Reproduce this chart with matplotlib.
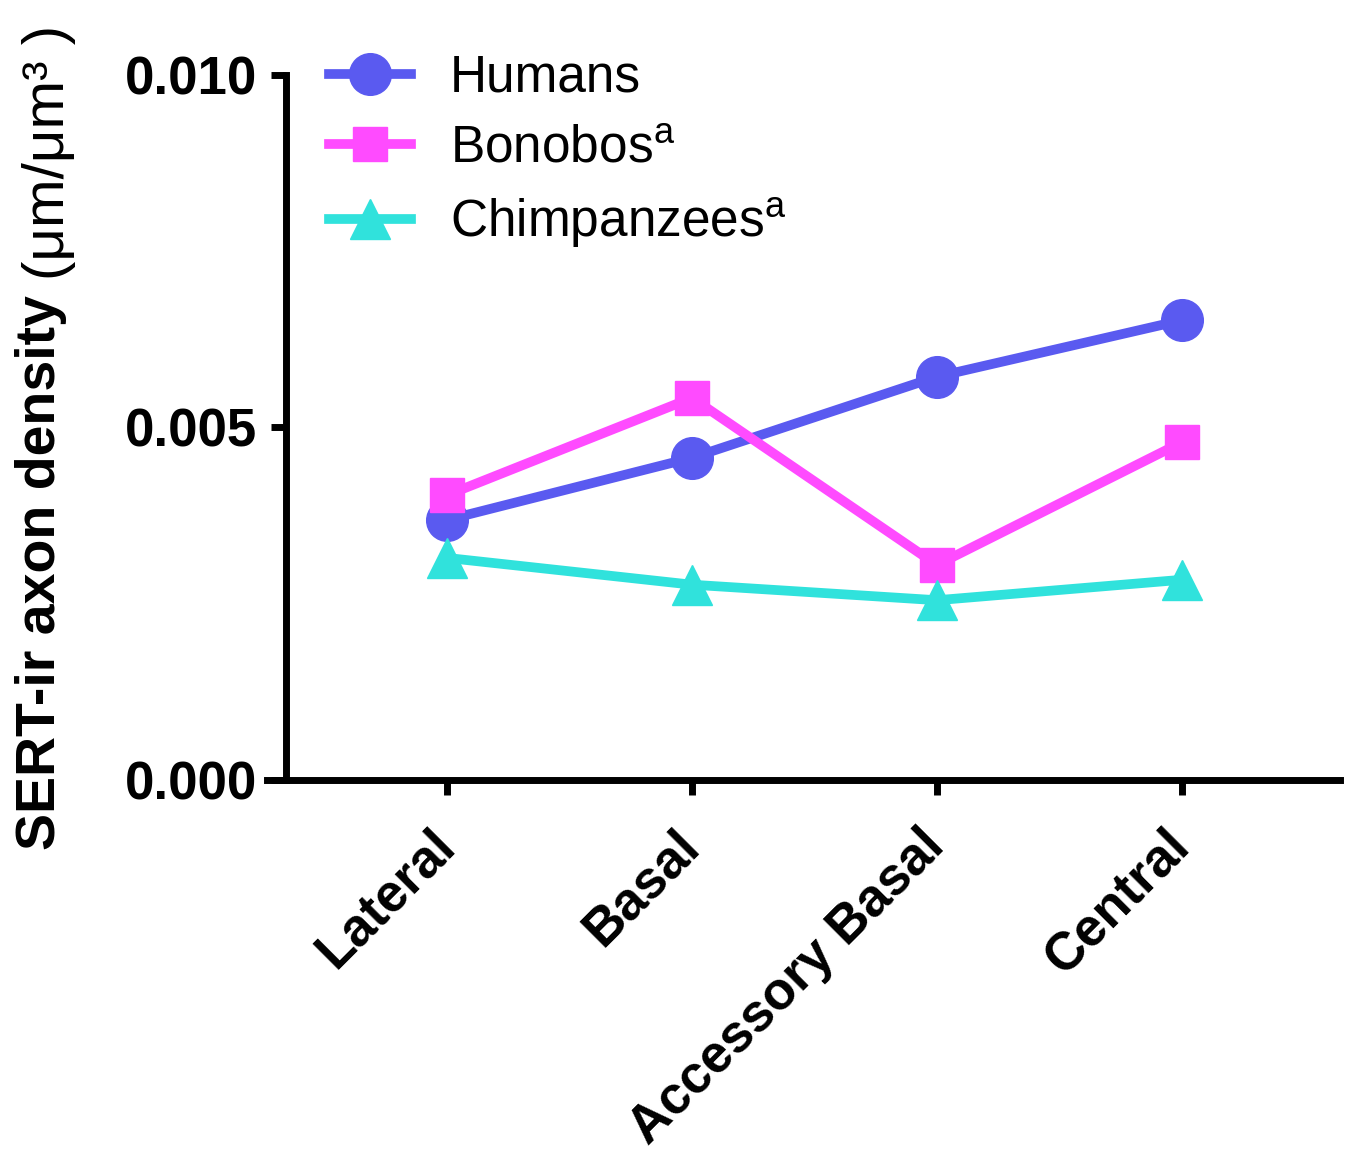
import numpy as np
import matplotlib
matplotlib.use("Agg")
import matplotlib.pyplot as plt
import matplotlib.transforms as mtransforms

plt.rcParams['font.family'] = ['Liberation Sans', 'DejaVu Sans']
plt.rcParams['mathtext.fontset'] = 'custom'
plt.rcParams['mathtext.rm'] = 'Liberation Sans'

# datos
regiones = ['Lateral', 'Basal', 'Accessory Basal', 'Central']
humanos = [0.00369, 0.00457, 0.00572, 0.00652]
bonobos = [0.00404, 0.00542, 0.00305, 0.00479]
chimpances = [0.00315, 0.00277, 0.00255, 0.00284]
yticks = [0.000, 0.005, 0.010]

c_hum = '#5A5AF0'
c_bon = '#FF4BFF'
c_chi = '#30E2DC'

fig = plt.figure(figsize=(13.52, 11.53), dpi=100)
ax = fig.add_axes([0.1975, 0.3235, 0.7935, 0.6115])

x = np.arange(len(regiones))
ax.plot(x, humanos, color=c_hum, lw=7, marker='o', ms=30, label='Humans')
ax.plot(x, bonobos, color=c_bon, lw=7, marker='s', ms=25, label=r'Bonobos$^{\mathrm{a}}$')
ax.plot(x, chimpances, color=c_chi, lw=7, marker='^', ms=29, label=r'Chimpanzees$^{\mathrm{a}}$')

ax.set_xlim(-0.735, 3.645)
ax.set_ylim(0, 0.010)
ax.spines['left'].set_position(('data', -0.657))
ax.spines['top'].set_visible(False)
ax.spines['right'].set_visible(False)
ax.spines['left'].set_linewidth(5)
ax.spines['bottom'].set_linewidth(5)

ax.set_yticks(yticks)
ax.set_yticklabels(['%.3f' % v for v in yticks], fontsize=38, fontweight='bold')
ax.set_xticks(x)
ax.set_xticklabels(regiones, fontsize=38, fontweight='bold', rotation=45,
                   ha='right', va='top', rotation_mode='anchor')
ax.tick_params(axis='both', length=11, width=5, direction='out')
ax.tick_params(axis='y', pad=10)
ax.tick_params(axis='x', pad=18)

# mover un poco las etiquetas del eje x a la izquierda
desp = mtransforms.ScaledTranslation(-18/100, 0, fig.dpi_scale_trans)
for lab in ax.get_xticklabels():
    lab.set_transform(lab.get_transform() + desp)

#etiqueta del eje y en dos partes (negrita + unidades)
fig.text(0.030, 1 - 850/1153, 'SERT-ir axon density', rotation=90, fontsize=40,
         fontweight='bold', ha='center', va='bottom')
fig.text(0.036, 1 - 280/1153, '(μm/μm³ )', rotation=90, fontsize=42,
         ha='center', va='bottom')

leg = ax.legend(loc='upper left', bbox_to_anchor=(0.058, 1.03), frameon=False,
                fontsize=37, handlelength=1.6, handletextpad=0.75,
                labelspacing=0.42, borderaxespad=0, borderpad=0)

fig.savefig('out.png', dpi=100)
